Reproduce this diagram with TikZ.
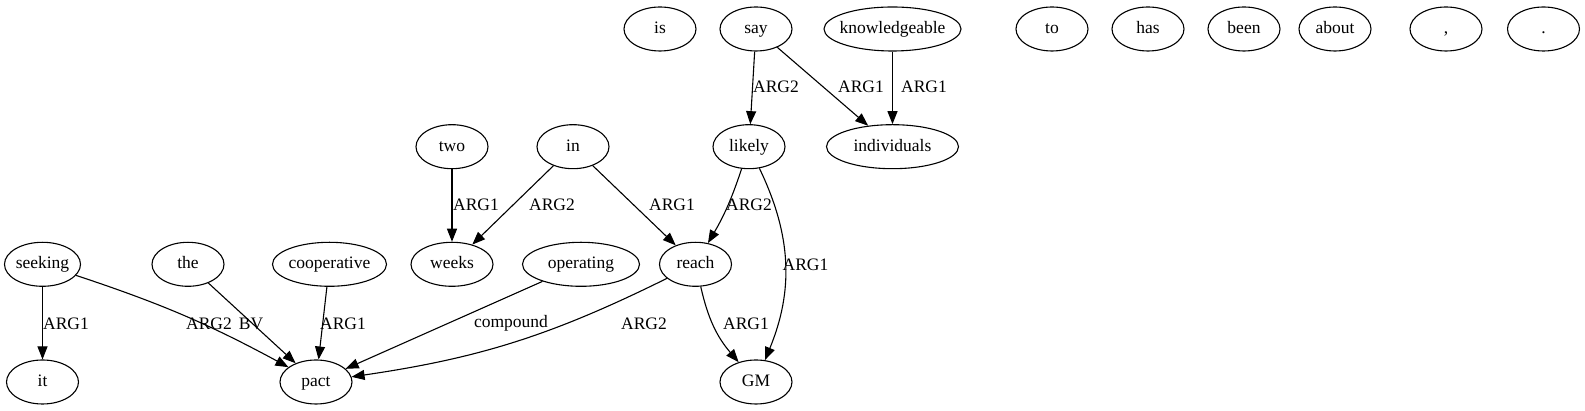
\documentclass[tikz,border=0pt]{standalone}
\usepackage{fontspec}
\setmainfont{Liberation Serif}
\usetikzlibrary{arrows.meta,shapes.geometric}
\tikzset{
  nd/.style={draw, ellipse, line width=1.1pt, minimum width=72pt, minimum height=44pt,
    inner xsep=-12pt, inner ysep=0pt,
    font=\fontsize{17.5}{21}\selectfont, text height=12pt, text depth=3pt},
  lbl/.style={font=\fontsize{17.5}{21}\selectfont, inner sep=0pt},
  edge/.style={line width=1.1pt, -{Triangle[length=13pt,width=10pt]}}
}
\begin{document}
\begin{tikzpicture}[x=1pt,y=1pt]
\useasboundingbox (0,0) rectangle (1585,411);
% top row
\node[nd] (is) at (660,382) {is};
\node[nd] (say) at (756,382) {say};
\node[nd, minimum width=137pt] (knowledgeable) at (892.5,382) {knowledgeable};
\node[nd] (to) at (1052,382) {to};
\node[nd] (has) at (1148,382) {has};
\node[nd] (been) at (1244,382) {been};
\node[nd] (about) at (1335,382) {about};
\node[nd] (comma) at (1446,382) {,};
\node[nd] (period) at (1543.5,382) {.};
% second row
\node[nd] (two) at (452,264.3) {two};
\node[nd] (in) at (573,264.3) {in};
\node[nd] (likely) at (749,264.3) {likely};
\node[nd, minimum width=132pt] (individuals) at (892.5,264.3) {individuals};
% third row
\node[nd, minimum width=76pt] (seeking) at (42.5,146.7) {seeking};
\node[nd] (the) at (188,146.7) {the};
\node[nd, minimum width=114pt] (cooperative) at (329.5,146.7) {cooperative};
\node[nd, minimum width=82pt] (weeks) at (452,146.7) {weeks};
\node[nd, minimum width=117pt] (operating) at (581,146.7) {operating};
\node[nd] (reach) at (695.5,146.7) {reach};
% bottom row
\node[nd] (it) at (42.5,29) {it};
\node[nd] (pact) at (316,29) {pact};
\node[nd] (GM) at (756,29) {GM};
% edges
\draw[edge] (say) -- (likely);
\draw[edge] (say) -- (individuals);
\draw[edge] (knowledgeable) -- (individuals);
\draw[edge] (two) -- (weeks);
\draw[edge] (in) -- (weeks);
\draw[edge] (in) -- (reach);
\draw[edge] (likely) to[bend left=6] (reach);
\draw[edge] (likely) to[bend left=24] (GM);
\draw[edge] (seeking) -- (it);
\draw[edge] (seeking) to[bend left=5] (pact);
\draw[edge] (the) -- (pact);
\draw[edge] (cooperative) -- (pact);
\draw[edge] (operating) -- (pact);
\draw[edge] (reach) to[bend left=9] (pact);
\draw[edge] (reach) to[bend right=14] (GM);
% labels
\node[lbl] (l1) at (776,324) {ARG2};
\node[lbl] (l2) at (861,324) {ARG1};
\node[lbl] (l3) at (924,324) {ARG1};
\node[lbl] (l4) at (476,206) {ARG1};
\node[lbl] (l5) at (552,206) {ARG2};
\node[lbl] (l6) at (672,206) {ARG1};
\node[lbl] (l7) at (749,206) {ARG2};
\node[lbl] (l8) at (805.5,146) {ARG1};
\node[lbl] (l9) at (66,87.5) {ARG1};
\node[lbl] (l10) at (209,87.5) {ARG2};
\node[lbl] (l11) at (251,87.5) {BV};
\node[lbl] (l12) at (343,87.5) {ARG1};
\node[lbl] (l13) at (511,87.5) {compound};
\node[lbl] (l14) at (644,87.5) {ARG2};
\node[lbl] (l15) at (746,87.5) {ARG1};
\end{tikzpicture}
\end{document}
